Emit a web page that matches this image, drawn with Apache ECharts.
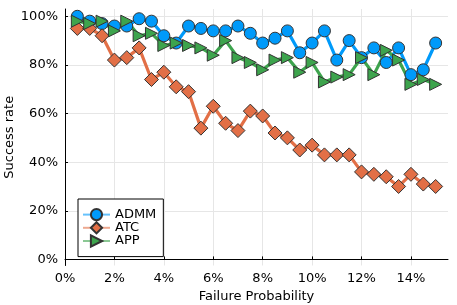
<!DOCTYPE html>
<html>
<head>
<meta charset="utf-8">
<script src="https://cdn.jsdelivr.net/npm/echarts@6/dist/echarts.min.js"></script>
<style>html,body{margin:0;padding:0;background:#fff}#c{width:457px;height:305px}</style>
</head>
<body>
<div id="c"></div>
<script>
const failureProb = [0.5,1,1.5,2,2.5,3,3.5,4,4.5,5,5.5,6,6.5,7,7.5,8,8.5,9,9.5,10,10.5,11,11.5,12,12.5,13,13.5,14,14.5,15];
const admm = [100,98,97,96,96,99,98,92,89,96,95,94,94,96,93,89,91,94,85,89,94,82,90,83,87,81,87,76,78,89];
const atc  = [95,95,92,82,83,87,74,77,71,69,54,63,56,53,61,59,52,50,45,47,43,43,43,36,35,34,30,35,31,30];
const app  = [98,97,98,94,98,92,93,88,89,88,87,84,90,83,81,78,82,83,77,81,73,75,76,83,76,86,82,72,74,72];
const xTicks = [0,2,4,6,8,10,12,14];
const yTicks = [0,20,40,60,80,100];

const font = 'DejaVu Sans';
const pairs = ys => failureProb.map((x,i)=>[x, ys[i]]);
const chart = echarts.init(document.getElementById('c'), null, {renderer:'canvas'});
const mk = (name, data, color, symbol, size, rot) => ({
  name, type:'line', data: pairs(data), symbol, symbolSize:size, symbolRotate:rot||0,
  lineStyle:{color, width:3.2}, itemStyle:{color, borderColor:'#333', borderWidth:1},
  emphasis:{disabled:true}, animation:false
});
chart.setOption({
  animation:false,
  grid:{left:65, right:9, top:9, bottom:39.5, containLabel:false, outerBoundsMode:'none'},
  xAxis:{type:'value', min:0, max:15.5,
    name:'Failure Probability', nameLocation:'middle', nameGap:25, nameMoveOverlap:false,
    nameTextStyle:{fontFamily:font, fontSize:13, color:'#000'},
    axisLine:{show:true, lineStyle:{color:'#000', width:1}},
    axisTick:{show:true, inside:true, length:3, customValues:xTicks, lineStyle:{color:'#000'}},
    axisLabel:{customValues:xTicks, formatter:'{value}%', fontFamily:font, fontSize:13, color:'#000', margin:7},
    splitLine:{show:true, lineStyle:{color:'#e6e6e6', width:1}}
  },
  yAxis:{type:'value', min:-2.5, max:103,
    name:'Success rate', nameLocation:'middle', nameGap:49, nameRotate:90, nameMoveOverlap:false,
    nameTextStyle:{fontFamily:font, fontSize:13, color:'#000'},
    axisLine:{show:true, lineStyle:{color:'#000', width:1}},
    axisTick:{show:true, inside:true, length:3, customValues:yTicks, lineStyle:{color:'#000'}},
    axisLabel:{customValues:yTicks, formatter:'{value}%', fontFamily:font, fontSize:13, color:'#000', margin:7},
    splitLine:{show:true, lineStyle:{color:'#e6e6e6', width:1}}
  },
  legend:{left:78, top:199, orient:'vertical', itemWidth:27, itemHeight:14, itemGap:0,
    padding:[9,7,9,4], borderColor:'#000', borderWidth:1, backgroundColor:'#fff',
    textStyle:{fontFamily:font, fontSize:13, color:'#000'},
    lineStyle:{width:2, opacity:0.6},
    data:['ADMM','ATC','APP']},
  series:[
    mk('ADMM', admm, '#009AFA', 'circle', 12),
    mk('ATC', atc, '#E26F46', 'diamond', 14),
    mk('APP', app, '#3DA44D', 'triangle', 12, -90)
  ]
});
</script>
</body>
</html>
